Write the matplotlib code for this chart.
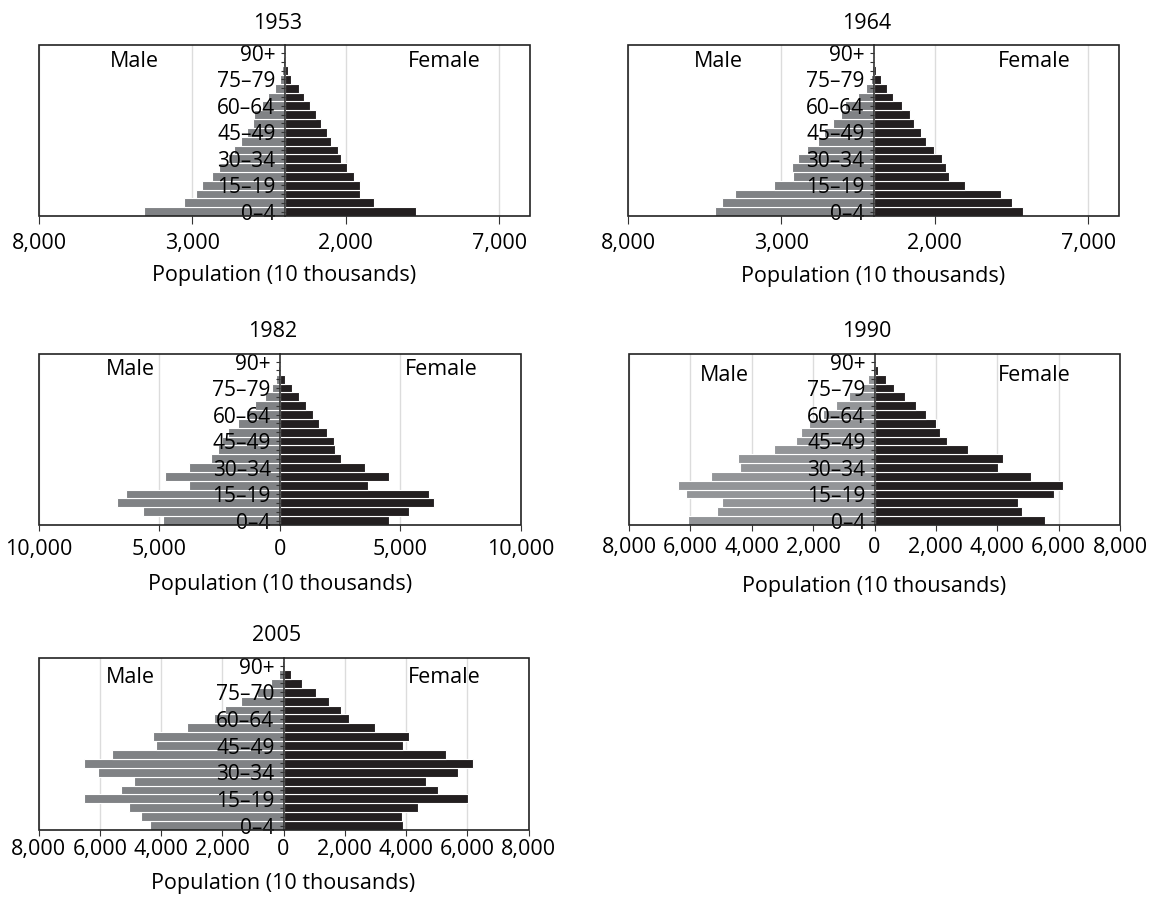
import matplotlib
matplotlib.use("Agg")
import matplotlib.pyplot as plt
from matplotlib.patches import Rectangle
from matplotlib.ticker import FuncFormatter

plt.rcParams['font.family'] = ['Open Sans', 'DejaVu Sans']

# age groups, bottom (0-4) to top (90+)
age_labels = ["0–4", "", "", "15–19", "", "", "30–34", "", "", "45–49",
              "", "", "60–64", "", "", "75–79", "", "", "90+"]
age_labels_2005 = list(age_labels)
age_labels_2005[15] = "75–70"

years = ["1953", "1964", "1982", "1990", "2005"]

# population in 10 thousands, rows 0-4 ... 90+
male_1953 = [4570, 3290, 2870, 2690, 2350, 2150, 1840, 1640, 1430, 1210,
             1030, 1000, 720, 540, 310, 150, 80, 40, 20]
female_1953 = [4285, 2930, 2470, 2460, 2250, 2030, 1840, 1730, 1530, 1380,
               1190, 1030, 840, 650, 480, 220, 100, 50, 20]

male_1964 = [5160, 4930, 4500, 3230, 2630, 2660, 2460, 2180, 1820, 1600,
             1320, 1060, 920, 510, 250, 80, 45, 22, 11]
female_1964 = [4870, 4500, 4140, 2990, 2450, 2360, 2230, 1970, 1720, 1550,
               1330, 1190, 930, 650, 430, 260, 90, 56, 15]

male_1982 = [4860, 5670, 6750, 6360, 3770, 4740, 3770, 2830, 2570, 2390,
             2140, 1720, 1390, 1030, 630, 310, 170, 86, 29]
female_1982 = [4540, 5370, 6400, 6190, 3660, 4520, 3540, 2540, 2290, 2230,
               1940, 1630, 1360, 1090, 800, 510, 230, 43, 14]

male_1990 = [6080, 5120, 4980, 6150, 6400, 5330, 4370, 4450, 3290, 2560,
             2390, 2150, 1690, 1250, 840, 380, 200, 58, 23]
female_1990 = [5550, 4800, 4690, 5860, 6150, 5090, 4020, 4190, 3050, 2360,
               2150, 2010, 1690, 1340, 990, 640, 360, 128, 23]

male_2005 = [4350, 4640, 5050, 6530, 5320, 4870, 6060, 6530, 5600, 4170,
             4260, 3160, 2270, 1920, 1400, 850, 420, 150, 58]
female_2005 = [3900, 3870, 4400, 6030, 5040, 4660, 5710, 6180, 5290, 3900,
               4100, 3000, 2150, 1890, 1500, 1070, 610, 260, 47]

males = [male_1953, male_1964, male_1982, male_1990, male_2005]
females = [female_1953, female_1964, female_1982, female_1990, female_2005]

xticks_all = [
    [-8000, -3000, 2000, 7000],
    [-8000, -3000, 2000, 7000],
    [-10000, -5000, 0, 5000, 10000],
    [-8000, -6000, -4000, -2000, 0, 2000, 4000, 6000, 8000],
    [-8000, -6000, -4000, -2000, 0, 2000, 4000, 6000, 8000],
]
xlims = [(-8000, 8000), (-8000, 8000), (-10000, 10000), (-8000, 8000), (-8000, 8000)]

# axes boxes in pixels: left, top, right, bottom
boxes = [(39, 45.5, 530, 216), (628, 45.5, 1119, 216), (38.5, 354, 521, 525),
         (629, 354, 1120, 525), (38.5, 658, 528.5, 830)]
# Male / Female label positions (axes fraction)
male_pos = [(0.195, 0.905), (0.185, 0.905), (0.191, 0.91), (0.195, 0.873), (0.187, 0.887)]
female_pos = [(0.826, 0.905), (0.827, 0.905), (0.834, 0.91), (0.825, 0.873), (0.829, 0.887)]
# x tick length, tick pad, xlabel pad (points)
tick_len = [6, 6, 4, 4.5, 4]
tick_pad = [6, 6.5, 6.4, 4, 2.5]
label_pad = [8.5, 8.5, 10, 13, 9]
gray_cols = ["#808285", "#808285", "#808285", "#939598", "#808285"]

female_color = "#231f20"
fs = 15.5

W, H = 1152, 897
fig = plt.figure(figsize=(W / 100, H / 100), dpi=100)

for i in range(5):
    l, t, r, b = boxes[i]
    ax = fig.add_axes([l / W, 1 - b / H, (r - l) / W, (b - t) / H])
    ax.set_axisbelow(False)
    rows = list(range(len(males[i])))
    ax.barh(rows, [-v for v in males[i]], height=1, color=gray_cols[i],
            edgecolor="white", linewidth=0.8, zorder=2)
    ax.barh(rows, females[i], height=1, color=female_color,
            edgecolor="white", linewidth=0.8, zorder=2)

    ax.set_xlim(*xlims[i])
    ax.set_ylim(-0.5, 18.85)
    ax.set_xticks(xticks_all[i])
    ax.xaxis.set_major_formatter(FuncFormatter(lambda v, p: f"{abs(int(v)):,}"))
    for xt in xticks_all[i]:
        if xt != 0:
            ax.axvline(xt, color="#dcdcdc", lw=1, zorder=0)

    # center spine with age labels
    for s in ["top", "right", "bottom"]:
        ax.spines[s].set_visible(False)
    ax.spines["left"].set_position(("data", 0))
    ax.spines["left"].set_color("#333333")
    ax.spines["left"].set_linewidth(1.2)
    ax.add_patch(Rectangle((0, 0), 1, 1, transform=ax.transAxes, fill=False,
                           edgecolor="#222222", lw=1.2, clip_on=False, zorder=4))

    labels = age_labels_2005 if i == 4 else age_labels
    ax.set_yticks(rows)
    ax.set_yticklabels(labels, fontsize=fs - 0.5)
    ax.tick_params(axis="y", direction="out", length=3, pad=3.5, color="#333333")
    ax.tick_params(axis="x", direction="out", length=tick_len[i], labelsize=fs,
                   pad=tick_pad[i], color="#333333")

    ax.set_title(years[i], fontsize=fs, pad=12, x=0.485)
    ax.set_xlabel("Population (10 thousands)", fontsize=fs, labelpad=label_pad[i])
    ax.text(*male_pos[i], "Male", transform=ax.transAxes, fontsize=fs,
            ha="center", va="center", zorder=6)
    ax.text(*female_pos[i], "Female", transform=ax.transAxes, fontsize=fs,
            ha="center", va="center", zorder=6)

fig.savefig("out.png", dpi=100)
